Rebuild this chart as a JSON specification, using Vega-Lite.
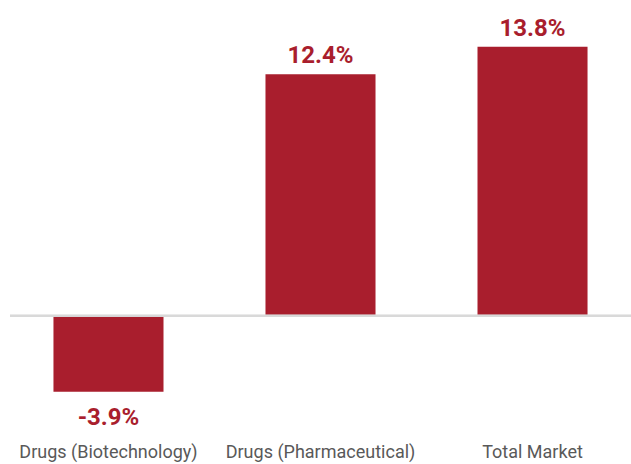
{
  "$schema": "https://vega.github.io/schema/vega-lite/v6.json",
  "width": 621,
  "height": 413,
  "autosize": "none",
  "padding": {"left": 10, "top": 4, "right": 0, "bottom": 47},
  "background": "white",
  "config": {"view": {"stroke": null}},
  "data": {"values": [
    {"category": "Drugs (Biotechnology)", "value": -3.9, "label": "-3.9%"},
    {"category": "Drugs (Pharmaceutical)", "value": 12.4, "label": "12.4%"},
    {"category": "Total Market", "value": 13.8, "label": "13.8%"}
  ]},
  "layer": [
    {
      "mark": {"type": "bar", "color": "#A91E2D"},
      "encoding": {
        "x": {
          "field": "category", "type": "nominal", "sort": null,
          "scale": {"paddingInner": 0.481, "paddingOuter": 0.205},
          "axis": {
            "title": null, "domain": false, "ticks": false, "labelAngle": 0, "labelLimit": 0,
            "labelFont": "Roboto", "labelFontSize": 18, "labelColor": "#595959", "labelPadding": 26
          }
        },
        "y": {"field": "value", "type": "quantitative",
          "scale": {"domain": [-5.2, 16], "nice": false, "zero": false}, "axis": null}
      }
    },
    {
      "mark": {"type": "rule", "color": "#d9d9d9", "strokeWidth": 2},
      "encoding": {"y": {"datum": 0, "type": "quantitative"}}
    },
    {
      "transform": [{"filter": "datum.value >= 0"}],
      "mark": {"type": "text", "baseline": "alphabetic", "dy": -11, "color": "#A91E2D",
        "fontWeight": "bold", "fontSize": 24, "font": "Roboto"},
      "encoding": {
        "x": {"field": "category", "type": "nominal", "sort": null},
        "y": {"field": "value", "type": "quantitative"},
        "text": {"field": "label"}
      }
    },
    {
      "transform": [{"filter": "datum.value < 0"}],
      "mark": {"type": "text", "baseline": "alphabetic", "dy": 33, "color": "#A91E2D",
        "fontWeight": "bold", "fontSize": 24, "font": "Roboto"},
      "encoding": {
        "x": {"field": "category", "type": "nominal", "sort": null},
        "y": {"field": "value", "type": "quantitative"},
        "text": {"field": "label"}
      }
    }
  ]
}
